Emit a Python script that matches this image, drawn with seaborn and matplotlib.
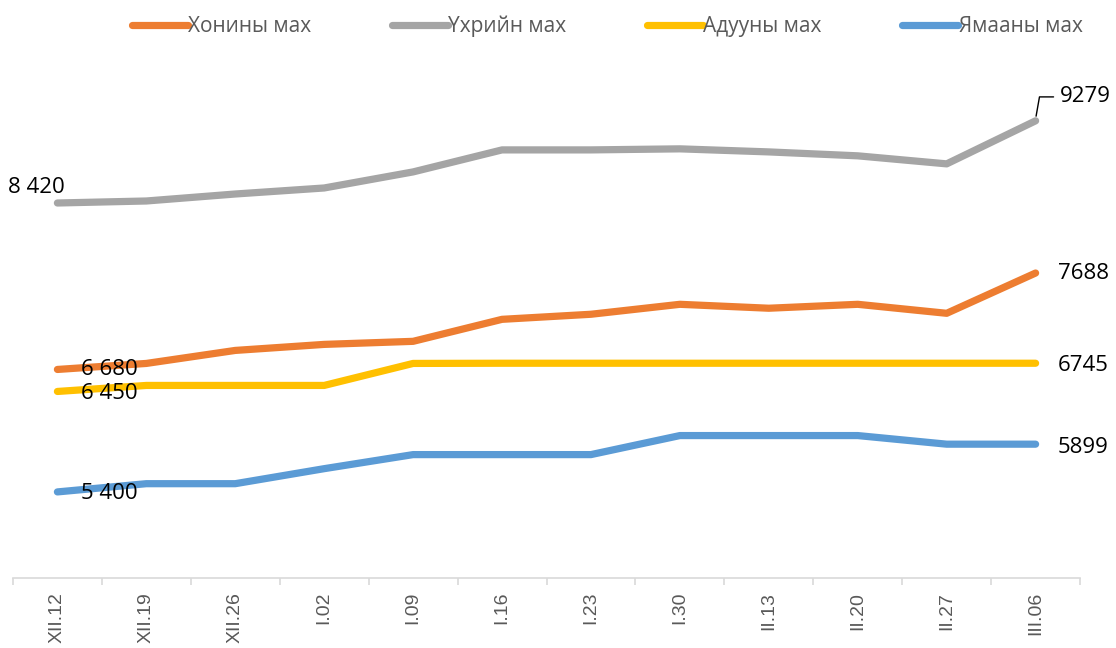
import matplotlib
matplotlib.use("Agg")
import matplotlib.pyplot as plt
import seaborn as sns
import pandas as pd
import numpy as np
from matplotlib.lines import Line2D

dates = ["XII.12", "XII.19", "XII.26", "I.02", "I.09", "I.16", "I.23", "I.30", "II.13", "II.20", "II.27", "III.06"]
series_names = ["Хонины мах", "Үхрийн мах", "Адууны мах", "Ямааны мах"]
khonin = [6680, 6743, 6879, 6942, 6974, 7204, 7257, 7361, 7320, 7361, 7267, 7688]
ukhriin = [8420, 8441, 8514, 8577, 8745, 8975, 8975, 8986, 8954, 8913, 8829, 9279]
aduun = [6450, 6513, 6513, 6513, 6743, 6745, 6745, 6745, 6745, 6745, 6745, 6745]
yamaan = [5400, 5486, 5486, 5643, 5790, 5790, 5790, 5989, 5989, 5989, 5899, 5899]
first_labels = ["8 420", "6 680", "6 450", "5 400"]
last_labels = ["9279", "7688", "6745", "5899"]

colors = ["#ED7D31", "#A5A5A5", "#FFC000", "#5B9BD5"]
all_vals = [khonin, ukhriin, aduun, yamaan]

rows = []
for name, vals in zip(series_names, all_vals):
    for i, v in enumerate(vals):
        rows.append({"x": i, "value": v, "series": name})
df = pd.DataFrame(rows)

sns.set_theme(style="white")
plt.rcParams['font.family'] = ['Open Sans', 'DejaVu Sans']

fig = plt.figure(figsize=(11.16, 6.48), dpi=100)
ax = fig.add_axes([0.0116, 0.108, 0.9562, 0.812])

sns.lineplot(data=df, x="x", y="value", hue="series", hue_order=series_names,
             palette=colors, linewidth=5.2, ax=ax, legend=False,
             solid_capstyle="round", solid_joinstyle="round")

ax.set_xlim(-0.5, len(dates) - 0.5)
ax.set_ylim(4500, 10000)
ax.set_xlabel("")
ax.set_ylabel("")
ax.set_yticks([])
for s in ["top", "right", "left"]:
    ax.spines[s].set_visible(False)
ax.spines["bottom"].set_color("#D9D9D9")
ax.spines["bottom"].set_linewidth(1.2)

ax.set_xticks(range(len(dates)))
ax.set_xticklabels(dates, rotation=90, fontsize=14, color="#595959", va="top",
                   family=["Liberation Sans", "DejaVu Sans"])
ax.tick_params(axis="x", which="major", length=0, pad=10)
ax.set_xticks(np.arange(-0.5, len(dates), 1.0), minor=True)
ax.tick_params(axis="x", which="minor", length=5, color="#D9D9D9", width=1.2, bottom=True)

fs = 16
ax.text(-0.55, ukhriin[0] + 160, first_labels[0], fontsize=fs, color="black", ha="left", va="center")
ax.text(0.27, khonin[0], first_labels[1], fontsize=fs, color="black", ha="left", va="center")
ax.text(0.27, aduun[0] - 20, first_labels[2], fontsize=fs, color="black", ha="left", va="center")
ax.text(0.27, yamaan[0] - 20, first_labels[3], fontsize=fs, color="black", ha="left", va="center")

n = len(dates) - 1
ax.annotate(last_labels[0], xy=(n, ukhriin[-1] + 20), xytext=(n + 0.27, ukhriin[-1] + 250),
            fontsize=fs, color="black", ha="left", va="center",
            arrowprops=dict(arrowstyle="-", color="black", lw=1,
                            connectionstyle="angle,angleA=0,angleB=80,rad=0"))
ax.text(n + 0.25, khonin[-1], last_labels[1], fontsize=fs, color="black", ha="left", va="center")
ax.text(n + 0.25, aduun[-1] - 20, last_labels[2], fontsize=fs, color="black", ha="left", va="center")
ax.text(n + 0.25, yamaan[-1] - 30, last_labels[3], fontsize=fs, color="black", ha="left", va="center")

handles = [Line2D([0], [0], color=c, lw=5.2, solid_capstyle="round") for c in colors]
leg = fig.legend(handles, series_names, loc="upper center", bbox_to_anchor=(0.544, 1.005),
                 ncol=4, frameon=False, fontsize=15, handlelength=2.7, handletextpad=0.02,
                 columnspacing=3.85)
for t in leg.get_texts():
    t.set_color("#595959")

fig.savefig("out.png", dpi=100)
